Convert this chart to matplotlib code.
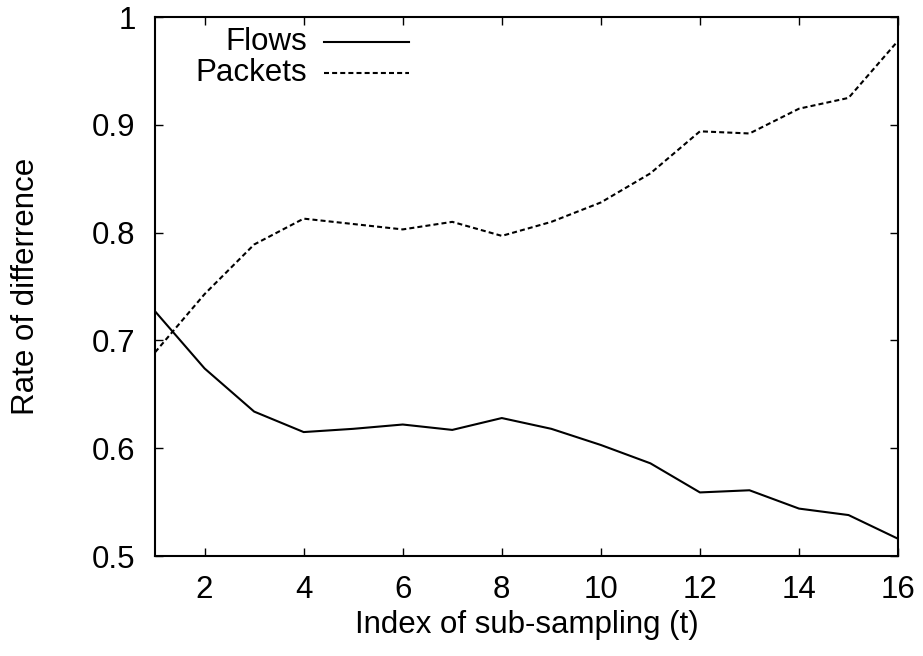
import matplotlib
matplotlib.use("Agg")
import matplotlib.pyplot as plt
import numpy as np

# sub-sampling index and measured rates
t       = np.arange(1, 17)
flows   = [0.727, 0.674, 0.634, 0.615, 0.618, 0.622, 0.617, 0.628,
           0.618, 0.603, 0.586, 0.559, 0.561, 0.544, 0.538, 0.516]
packets = [0.689, 0.743, 0.789, 0.813, 0.808, 0.803, 0.810, 0.797,
           0.810, 0.828, 0.855, 0.894, 0.892, 0.915, 0.925, 0.978]
xticks  = [2, 4, 6, 8, 10, 12, 14, 16]
yticks  = [0.5, 0.6, 0.7, 0.8, 0.9, 1.0]
ylabels = ['0.5', '0.6', '0.7', '0.8', '0.9', '1']

plt.rcParams['font.family'] = ['Liberation Sans', 'DejaVu Sans']
plt.rcParams['font.size']   = 22.5

fig = plt.figure(figsize=(9.23, 6.56), dpi=100)
ax  = fig.add_axes([0.168, 0.1524, 0.805, 0.8216])

ax.plot(t, flows, 'k-', lw=1.5)
ax.plot(t, packets, 'k', lw=1.5, dashes=(2.4, 1.5))

ax.set_xlim(1, 16)
ax.set_ylim(0.5, 1.0)
ax.set_xticks(xticks)
ax.set_yticks(yticks)
ax.set_yticklabels(ylabels)
ax.tick_params(direction='in', length=6, width=1, top=True, right=True)
ax.tick_params(axis='y', pad=14)
ax.tick_params(axis='x', pad=14)
for s in ax.spines.values():
    s.set_linewidth(1.5)

ax.set_xlabel('Index of sub-sampling (t)', labelpad=3)
ax.set_ylabel('Rate of differrence', labelpad=37)

# gnuplot-style key: label right-aligned, sample to its right
key = [('Flows', 0.953, {'linestyle': '-'}),
       ('Packets', 0.8956, {'dashes': (2.4, 1.5)})]
for label, yk, style in key:
    ax.text(0.2046, yk, label, ha='right', va='center', transform=ax.transAxes)
    ax.plot([0.2268, 0.3412], [yk, yk], color='k', lw=1.5,
            transform=ax.transAxes, **style)

fig.savefig('out.png', dpi=100)
